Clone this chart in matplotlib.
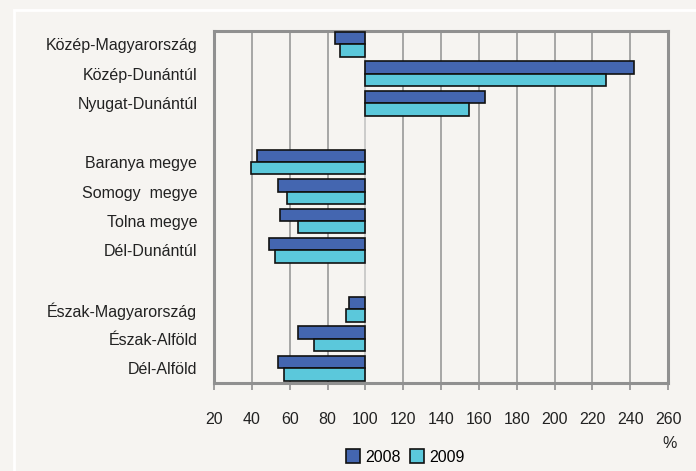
import matplotlib
matplotlib.use("Agg")
import matplotlib.pyplot as plt
import numpy as np
from matplotlib.patches import Rectangle, Patch

plt.rcParams['font.family'] = ['Liberation Sans Narrow', 'Liberation Sans', 'DejaVu Sans']

# regions, blanks ('') separate the groups
regions = ['Közép-Magyarország', 'Közép-Dunántúl', 'Nyugat-Dunántúl', '',
           'Baranya megye', 'Somogy  megye', 'Tolna megye', 'Dél-Dunántúl', '',
           'Észak-Magyarország', 'Észak-Alföld', 'Dél-Alföld']
v2008 = [84.0, 242.0, 163.0, None, 42.6, 54.0, 55.0, 49.2, None, 91.6, 64.2, 54.0]
v2009 = [86.8, 227.0, 154.6, None, 39.8, 58.7, 64.4, 52.0, None, 89.7, 72.7, 57.0]
xticks = list(range(20, 261, 20))

bg = '#f6f4f1'
c08 = '#4466b0'
c09 = '#5bc8db'

fig = plt.figure(figsize=(6.96, 4.71), dpi=100, facecolor=bg)
ax = fig.add_axes([0.3075, 0.187, 0.6523, 0.747], facecolor=bg)

# white outer frame line
fig.patches.append(Rectangle((14/696, -0.1), 1.2, 1 - 10/471 + 0.1, transform=fig.transFigure,
                             fill=False, edgecolor='white', linewidth=2))

h = 0.42
y = np.arange(len(regions))
for i in range(len(regions)):
    if v2008[i] is None:
        continue
    ax.barh(y[i] - h/2, v2008[i] - 100, left=100, height=h, color=c08,
            edgecolor='#111111', linewidth=1.2, zorder=3)
    ax.barh(y[i] + h/2, v2009[i] - 100, left=100, height=h, color=c09,
            edgecolor='#111111', linewidth=1.2, zorder=3)

ax.set_xlim(20, 260)
ax.set_ylim(len(regions) - 0.5, -0.45)
ax.set_xticks(xticks)
ax.set_xticklabels([str(t) for t in xticks], fontsize=11.5, color='#222222')
ax.set_yticks(y)
ax.set_yticklabels(regions, fontsize=11.5, color='#222222')
ax.tick_params(axis='y', length=0, pad=12)
ax.tick_params(axis='x', direction='out', length=5, width=1.2, color='#909090', pad=16)
for t in xticks:
    ax.axvline(t, color='#c8c8c8' if t == 100 else '#a0a0a0', lw=1.3, zorder=1)
for s in ax.spines.values():
    s.set_color('#909090')
    s.set_linewidth(2.2)

fig.text(670/696, 1 - 444/471, '%', fontsize=11.5, ha='center', va='center', color='#222222')

handles = [Patch(facecolor=c08, edgecolor='#111111', linewidth=1.2, label='2008'),
           Patch(facecolor=c09, edgecolor='#111111', linewidth=1.2, label='2009')]
fig.legend(handles=handles, loc='center', bbox_to_anchor=(405/696, 1 - 457/471), ncol=2,
           frameon=False, fontsize=11.5, handlelength=0.9, handleheight=0.9,
           handletextpad=0.3, columnspacing=0.6)

fig.savefig('out.png', dpi=100, facecolor=bg)
